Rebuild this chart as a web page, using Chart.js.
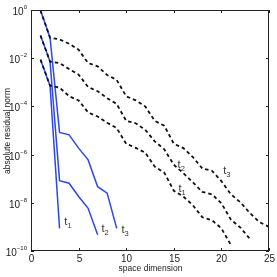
<!DOCTYPE html>
<html><head><meta charset="utf-8">
<script src="https://cdn.jsdelivr.net/npm/chart.js@4.4.1/dist/chart.umd.min.js"></script>
<style>html,body{margin:0;padding:0;background:#fff;}#wrap{width:277px;height:277px;}</style>
</head><body><div id="wrap"><canvas id="c" width="277" height="277"></canvas></div>
<script>
// space dimension (x) for each series
const dimT1 = [1,2,3,4,5,6,7,8,9,10,11,12,13,14,15,16,17,18,19,20,21];
const dimT2 = [1,2,3,4,5,6,7,8,9,10,11,12,13,14,15,16,17,18,19,20,21,22,23];
const dimT3 = [1,2,3,4,5,6,7,8,9,10,11,12,13,14,15,16,17,18,19,20,21,22,23,24,25];
// black dashed series (absolute residual norm)
const dashT1 = [8.71e-3,7.24e-4,6.03e-4,2.63e-4,1.78e-4,5.62e-5,3.8e-5,2.09e-5,1.26e-5,2.82e-6,1.91e-6,1.2e-6,3.16e-7,1.78e-7,3.16e-8,1.82e-8,7.94e-9,2.51e-9,1.91e-9,8.71e-10,1.78e-10];
const dashT2 = [0.0871,7.24e-3,6.31e-3,3.55e-3,2.09e-3,6.31e-4,4.27e-4,2.19e-4,1.26e-4,2.51e-5,2.0e-5,1.07e-5,3.55e-6,1.66e-6,3.8e-7,1.7e-7,7.08e-8,2.82e-8,2.24e-8,9.55e-9,2.0e-9,9.33e-10,3.16e-10];
const dashT3 = [0.955,0.0708,0.0603,0.0398,0.0224,6.3e-3,4.57e-3,2.0e-3,1.26e-3,2.63e-4,1.78e-4,1e-4,2.51e-5,1.58e-5,2.82e-6,1.86e-6,7.94e-7,2.63e-7,2.14e-7,7.94e-8,2.24e-8,1.05e-8,3.72e-9,1.58e-9,1e-9];
// blue solid series
const blueDimT1 = [1,2,3];
const blueDimT2 = [1,2,3,4,5,6,7];
const blueDimT3 = [1,2,3,4,5,6,7,8,9];
const blueT1 = [8.71e-3,7.24e-4,8.71e-10];
const blueT2 = [0.0871,7.24e-3,8.32e-8,6.46e-8,1.82e-8,5.89e-9,4.68e-10];
const blueT3 = [0.955,0.0708,8.32e-6,6.61e-6,1.86e-6,6.03e-7,4.68e-8,2.51e-8,8.71e-10];
// ticks
const xTicks = [0,5,10,15,20,25];
const yTickExps = [0,-2,-4,-6,-8,-10];
// curve labels: [x, y, subscript]
const labelPos = [
  [3.5, 1.2e-9, '1'], [7.4, 6e-10, '2'], [9.5, 5.5e-10, '3'],
  [15.4, 2.8e-7, '2'], [15.5, 2.9e-8, '1'], [20.2, 1.6e-7, '3']
];

function pts(xs, ys){ return xs.map((x,i)=>({x:x, y:ys[i]})); }

const FONT = "'Liberation Sans Narrow','Liberation Sans',Arial,sans-serif";
const BLUE = '#2b44ff';

const deco = {
  id:'deco',
  afterDraw(chart){
    const ctx = chart.ctx, a = chart.chartArea, xs = chart.scales.x, ys = chart.scales.y;
    ctx.save();
    // frame
    ctx.strokeStyle = '#222'; ctx.lineWidth = 1;
    ctx.strokeRect(Math.round(a.left)+0.5, Math.round(a.top)+0.5, Math.round(a.right-a.left)-1, Math.round(a.bottom-a.top)-1);
    // ticks x
    ctx.fillStyle = '#222'; ctx.font = '10px '+FONT; ctx.textAlign='center'; ctx.textBaseline='middle';
    xTicks.forEach(v=>{
      const px = Math.round(xs.getPixelForValue(v))+0.5;
      ctx.beginPath(); ctx.moveTo(px,a.bottom); ctx.lineTo(px,a.bottom-3); ctx.moveTo(px,a.top); ctx.lineTo(px,a.top+3); ctx.stroke();
      ctx.fillText(String(v), px, a.bottom+8.5);
    });
    // ticks y
    yTickExps.forEach(e=>{
      const py = Math.round(ys.getPixelForValue(Math.pow(10,e)))+0.5;
      ctx.beginPath(); ctx.moveTo(a.left,py); ctx.lineTo(a.left+3,py); ctx.moveTo(a.right,py); ctx.lineTo(a.right-3,py); ctx.stroke();
      ctx.font = '6px '+FONT; ctx.textAlign='left'; ctx.textBaseline='alphabetic';
      const sup = e===0 ? '0' : ('\u2212'+(-e));
      const sw = ctx.measureText(sup).width;
      ctx.fillText(sup, 27-sw, py-1.5);
      ctx.font = '10px '+FONT; ctx.textAlign='right';
      ctx.fillText('10', 27-sw, py+4);
    });
    // axis titles
    ctx.font = '8.5px '+FONT; ctx.textAlign='center'; ctx.textBaseline='middle';
    ctx.fillText('space dimension', 150.5, 268.5);
    ctx.save(); ctx.translate(7.5, 131); ctx.rotate(-Math.PI/2);
    ctx.fillText('absolute residual norm', 0, 0); ctx.restore();
    // curve labels
    ctx.fillStyle = '#333';
    labelPos.forEach(([x,y,s])=>{
      const px = xs.getPixelForValue(x), py = ys.getPixelForValue(y);
      ctx.font = '11px '+FONT; ctx.textAlign='left'; ctx.textBaseline='alphabetic';
      ctx.fillText('t', px, py);
      const tw = ctx.measureText('t').width;
      ctx.font = '7.5px '+FONT;
      ctx.fillText(s, px+tw, py+3);
    });
    ctx.restore();
  }
};

const dashStyle = {borderColor:'#111', borderWidth:1.8, borderDash:[3.5,3], pointRadius:0, fill:false, tension:0};
const blueStyle = {borderColor:BLUE, borderWidth:1.5, pointRadius:0, fill:false, tension:0};

new Chart(document.getElementById('c'), {
  type:'line',
  data:{ datasets:[
    Object.assign({label:'t1 dashed', data:pts(dimT1,dashT1), order:1}, dashStyle),
    Object.assign({label:'t2 dashed', data:pts(dimT2,dashT2), order:1}, dashStyle),
    Object.assign({label:'t3 dashed', data:pts(dimT3,dashT3), order:1}, dashStyle),
    Object.assign({label:'t1', data:pts(blueDimT1,blueT1), order:2}, blueStyle),
    Object.assign({label:'t2', data:pts(blueDimT2,blueT2), order:2}, blueStyle),
    Object.assign({label:'t3', data:pts(blueDimT3,blueT3), order:2}, blueStyle)
  ]},
  options:{
    responsive:false, animation:false, devicePixelRatio:1,
    layout:{padding:{left:31, right:8, top:10, bottom:26}},
    plugins:{legend:{display:false}, tooltip:{enabled:false}},
    scales:{
      x:{type:'linear', min:0, max:25, display:false},
      y:{type:'logarithmic', min:1e-10, max:1, display:false}
    }
  },
  plugins:[deco]
});
</script></body></html>
